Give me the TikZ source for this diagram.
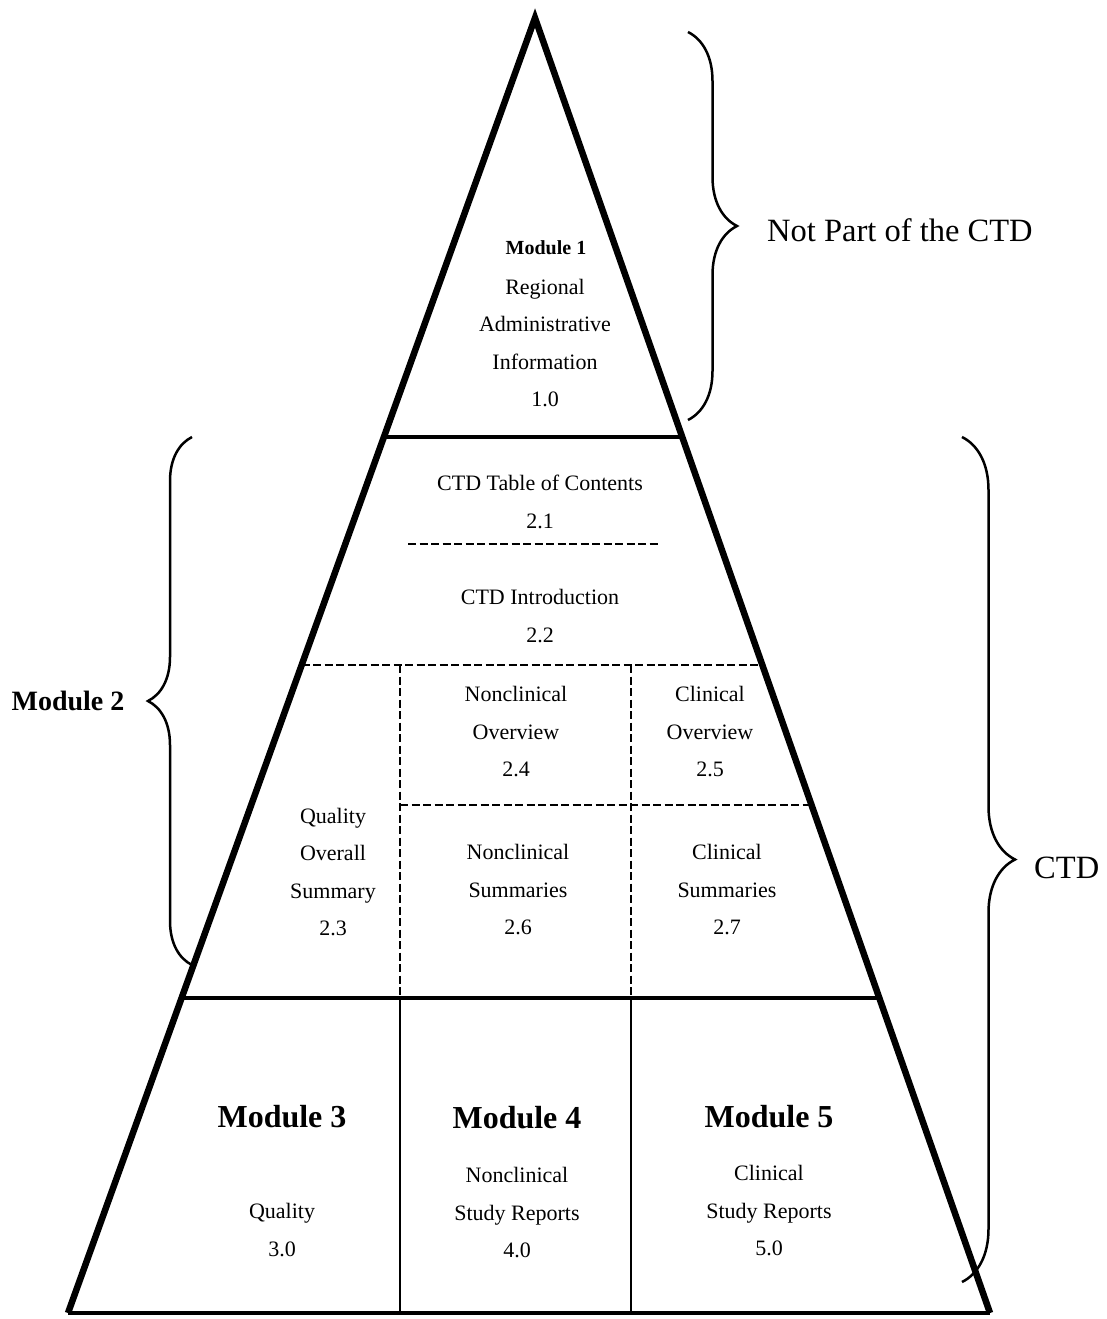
\documentclass[tikz,border=0pt]{standalone}
\usepackage{fontspec}
\setmainfont{Liberation Serif}
\usetikzlibrary{calc,decorations.pathreplacing}
\begin{document}
\begin{tikzpicture}[x=1pt,y=-1pt,
  sideline/.style={line width=6.5pt,line join=miter},
  midline/.style={line width=4.5pt},
  thinline/.style={line width=2pt},
  dashline/.style={line width=2.2pt,dash pattern=on 8pt off 3.5pt},
  bracestyle/.style={line width=2.5pt,decorate,decoration={brace,amplitude=#1}},
  body/.style={align=center,font=\fontsize{22}{37.5}\selectfont,inner sep=0pt},
  smallmod/.style={font=\fontsize{20}{24}\selectfont\bfseries,inner sep=0pt},
  bigmod/.style={font=\fontsize{32}{38}\selectfont\bfseries,inner sep=0pt},
  sidelbl/.style={font=\fontsize{32.5}{38}\selectfont,inner sep=0pt,anchor=west}
]
\useasboundingbox (0,0) rectangle (1107,1319);
% pyramid corners
\coordinate (apex) at (535,18);
\coordinate (bl) at (68,1313);
\coordinate (br) at (990,1313);
% points on the sides
\coordinate (l1) at ($(apex)!0.3236!(bl)$);
\coordinate (r1) at ($(apex)!0.3236!(br)$);
\coordinate (l2) at ($(apex)!0.4996!(bl)$);
\coordinate (r2) at ($(apex)!0.4996!(br)$);
\coordinate (r3) at ($(apex)!0.6077!(br)$);
\coordinate (l4) at ($(apex)!0.7568!(bl)$);
\coordinate (r4) at ($(apex)!0.7568!(br)$);
% inner points
\coordinate (d1a) at (408,544);
\coordinate (d1b) at (658,544);
\coordinate (va1) at (400,665);
\coordinate (vb1) at (631,665);
\coordinate (va2) at (400,805);
\coordinate (va3) at (400,998);
\coordinate (vb3) at (631,998);
\coordinate (va4) at (400,1313);
\coordinate (vb4) at (631,1313);

% outline
\draw[sideline] (bl) -- (apex) -- (br);
\draw[midline] (bl) -- (br);
\draw[midline] (l1) -- (r1);
\draw[midline] (l4) -- (r4);
% dashed divisions in module 2
\draw[dashline] (d1a) -- (d1b);
\draw[dashline] (l2) -- (r2);
\draw[dashline] (va1) -- (va3);
\draw[dashline] (vb1) -- (vb3);
\draw[dashline] (va2) -- (va2 -| r3);
% solid divisions in modules 3-5
\draw[thinline] (va3) -- (va4);
\draw[thinline] (vb3) -- (vb4);

% braces
\coordinate (b1a) at (688,32);
\coordinate (b1b) at (688,420);
\coordinate (b2a) at (192,965);
\coordinate (b2b) at (192,437);
\coordinate (b3a) at (962,437);
\coordinate (b3b) at (962,1282);
\draw[bracestyle=49] (b1a) -- (b1b);
\draw[bracestyle=44] (b2a) -- (b2b);
\draw[bracestyle=53] (b3a) -- (b3b);

% texts
\node[smallmod] (m1) at (546,248) {Module 1};
\node[body] (t1) at (545,343) {Regional\\Administrative\\Information\\1.0};
\node[body] (t21) at (540,502) {CTD Table of Contents\\2.1};
\node[body] (t22) at (540,616) {CTD Introduction\\2.2};
\node[body] (t24) at (516,732) {Nonclinical\\Overview\\2.4};
\node[body] (t25) at (710,732) {Clinical\\Overview\\2.5};
\node[body] (t23) at (333,872) {Quality\\Overall\\Summary\\2.3};
\node[body] (t26) at (518,890) {Nonclinical\\Summaries\\2.6};
\node[body] (t27) at (727,890) {Clinical\\Summaries\\2.7};
\node[bigmod] (m3) at (282,1117) {Module 3};
\node[bigmod] (m4) at (517,1118) {Module 4};
\node[bigmod] (m5) at (769,1117) {Module 5};
\node[body] (t3) at (282,1230) {Quality\\3.0};
\node[body] (t4) at (517,1213) {Nonclinical\\Study Reports\\4.0};
\node[body] (t5) at (769,1211) {Clinical\\Study Reports\\5.0};

\node[sidelbl] (np) at (767,230) {Not Part of the CTD};
\node[font=\fontsize{28}{32}\selectfont\bfseries,inner sep=0pt] (m2) at (68,701) {Module 2};
\node[sidelbl] (ctd) at (1034,868) {CTD};
\end{tikzpicture}
\end{document}
